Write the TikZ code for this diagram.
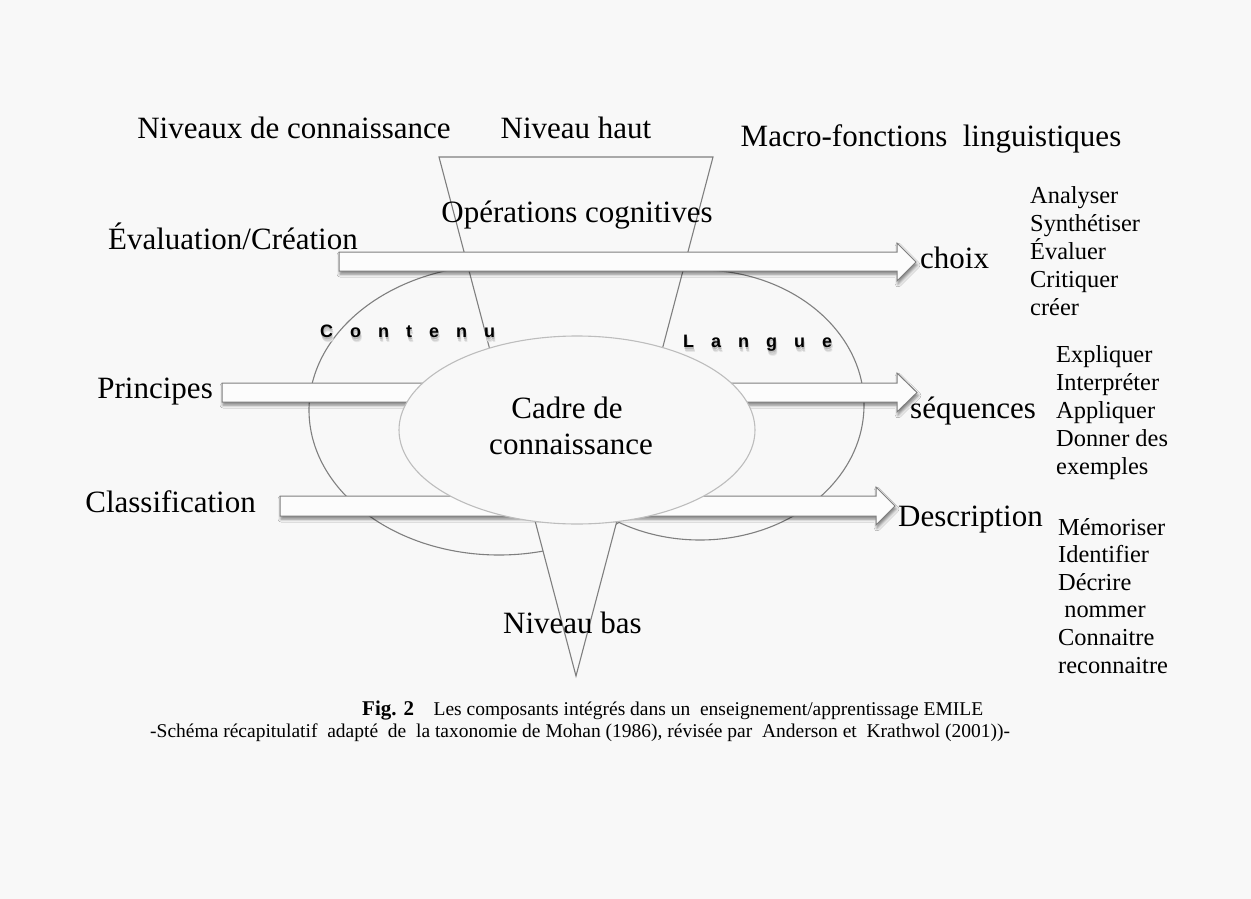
\documentclass[tikz,border=0pt]{standalone}
\usepackage{fontspec}
\setmainfont{Liberation Serif}
\newfontfamily\heavysans{Liberation Sans}
\usetikzlibrary{shadows.blur,shapes.geometric}

\definecolor{paper}{HTML}{F8F8F8}
\definecolor{edge}{HTML}{7F7F7F}
\definecolor{soft}{HTML}{BDBDBD}
\definecolor{arrowfill}{HTML}{FCFCFC}
\newcommand{\lgap}{\kern17pt}
% letters with a soft drop shadow set in the same box
\newcommand{\softshade}[1]{%
  \makebox[0pt][l]{\hspace{1.5pt}\raisebox{-5pt}{\color{black!10}#1}}%
  \makebox[0pt][l]{\hspace{1pt}\raisebox{-4pt}{\color{black!18}#1}}%
  \makebox[0pt][l]{\hspace{0.5pt}\raisebox{-2.8pt}{\color{black!28}#1}}%
  #1}

\begin{document}
\begin{tikzpicture}[x=1pt,y=1pt,
  main/.style={inner sep=0pt, font=\fontsize{31}{35.6}\selectfont},
  small/.style={inner sep=0pt, font=\fontsize{24.4}{28}\selectfont},
  capt/.style={inner sep=0pt, font=\fontsize{19.5}{22}\selectfont},
  blockarrow/.style={fill=arrowfill, draw=edge, line width=1pt, line join=miter,
    blur shadow={shadow xshift=1pt, shadow yshift=-3pt, shadow blur radius=3pt, shadow opacity=50}},
  outline/.style={draw=edge, line width=1.1pt},
  tag/.style={inner sep=0pt, font=\heavysans\bfseries\fontsize{18}{20}\selectfont}
]
\fill[paper] (0,0) rectangle (1251,-899);
\useasboundingbox (0,0) rectangle (1251,-899);

% content and language domains
\draw[outline, fill=paper] (499,-410) ellipse [x radius=190, y radius=145];
\draw[outline, fill=paper] (700,-405) ellipse [x radius=164, y radius=135];

% funnel of cognitive levels
\draw[outline, fill=paper, line join=miter] (439,-157) -- (713,-157) -- (576,-676) -- cycle;

% block arrows
\path[blockarrow] (339,-252) -- (897,-252) -- (897,-243) -- (916,-262) -- (897,-281) -- (897,-271) -- (339,-271) -- cycle;
\path[blockarrow] (222,-383) -- (897,-383) -- (897,-373) -- (917,-392.5) -- (897,-412) -- (897,-402) -- (222,-402) -- cycle;
\path[blockarrow] (280,-496) -- (876,-496) -- (876,-487) -- (895,-506) -- (876,-525) -- (876,-516) -- (280,-516) -- cycle;

% knowledge framework
\node[ellipse, draw=soft, line width=1.1pt, fill=paper, minimum width=356pt, minimum height=188pt, inner sep=0pt] (core) at (577,-430) {};

% headings
\node[main, anchor=base] (levels) at (294,-138) {Niveaux de connaissance};
\node[main, anchor=base] (high) at (576,-138) {Niveau haut};
\node[main, anchor=base] (macro) at (931,-146) {Macro-fonctions\ \ linguistiques};
\node[main, anchor=base] (ops) at (577,-222) {Opérations cognitives};

% level labels and outcomes
\node[main, anchor=base east] (evalc) at (358,-249) {Évaluation/Création};
\node[main, anchor=base west] (choix) at (920,-268) {choix};
\node[main, anchor=base east] (princ) at (213,-398) {Principes};
\node[main, anchor=base west] (seq) at (910,-418) {séquences};
\node[main, anchor=base east] (classif) at (256,-512) {Classification};
\node[main, anchor=base west] (descr) at (898,-526) {Description};
\node[main, anchor=base] (cadreA) at (567,-418) {Cadre de};
\node[main, anchor=base] (cadreB) at (571,-454) {connaissance};
\node[main, anchor=base west] (low) at (503,-633) {Niveau bas};

% domain tags
\node[tag, anchor=base west] (contenu) at (320,-337) {\softshade{C\lgap o\lgap n\lgap t\lgap e\lgap n\lgap u}};
\node[tag, anchor=base west] (langue) at (683,-347) {\softshade{L\lgap a\lgap n\lgap g\lgap u\lgap e}};

% linguistic macro-functions
\foreach \w [count=\i] in {Analyser,Synthétiser,Évaluer,Critiquer,créer}
  \node[small, anchor=base west] (high\i) at (1030,{-203-28*(\i-1)}) {\w};
\foreach \w [count=\i] in {Expliquer,Interpréter,Appliquer,Donner des,exemples}
  \node[small, anchor=base west] (mid\i) at (1056,{-362-28*(\i-1)}) {\w};
\foreach \w [count=\i] in {Mémoriser,Identifier,Décrire,\hspace*{6.1pt}nommer,Connaitre,reconnaitre}
  \node[small, anchor=base west] (low\i) at (1058,{-535-27.6*(\i-1)}) {\w};

% caption
\node[capt, anchor=base west] (figA) at (362,-715) {{\bfseries\fontsize{21}{22}\selectfont Fig. 2}\quad Les composants intégrés dans un\ \ enseignement/apprentissage EMILE};
\node[capt, anchor=base west] (figB) at (150,-737) {-Schéma récapitulatif\ \ adapté\ \ de\ \ la taxonomie de Mohan (1986), révisée par\ \ Anderson et\ \ Krathwol (2001))-};
\end{tikzpicture}
\end{document}
